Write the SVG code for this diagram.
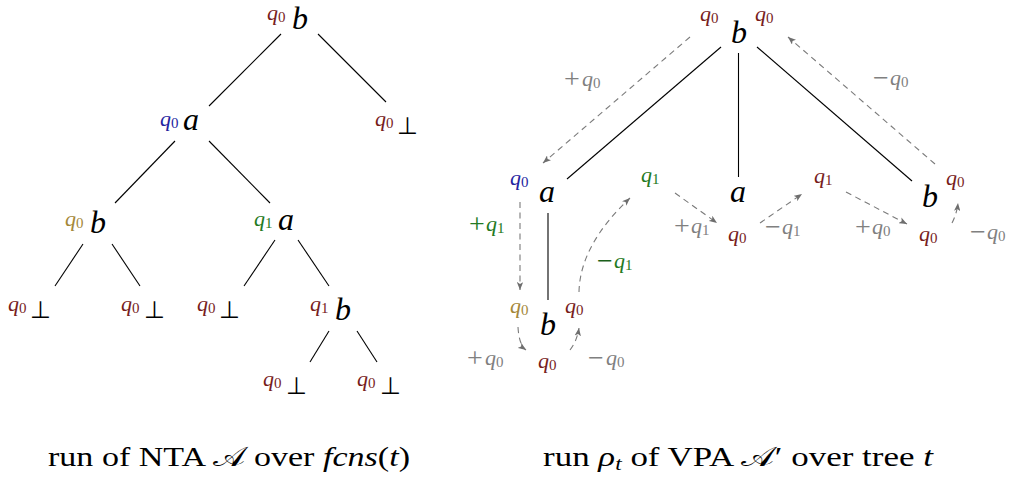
<svg xmlns="http://www.w3.org/2000/svg" width="1011" height="482" viewBox="0 0 1011 482" font-family="'Liberation Serif', 'Times New Roman', 'DejaVu Serif', serif">
<style>
.sym{font-style:italic;font-size:32px;fill:#000}
.q{font-size:22px}
.q .v{font-style:italic}
.q .s{font-size:15px}
.pm{font-size:28px}
.bot{font-family:"DejaVu Sans",sans-serif;font-size:24px;fill:#000}
.mr{fill:#771d1d}
.bl{fill:#2424a0}
.gd{fill:#a4883a}
.gr{fill:#237a23}
.gy{fill:#808080}
.edge{stroke:#000;stroke-width:1.1;fill:none}
.dash{stroke:#7a7a7a;stroke-width:1.1;fill:none;stroke-dasharray:6 4.5;marker-end:url(#ah)}
.cap{font-size:27px;fill:#000}
.it{font-style:italic}
</style>
<defs>
<marker id="ah" viewBox="0 0 10 8" refX="10" refY="4" markerWidth="8" markerHeight="6.4" markerUnits="userSpaceOnUse" orient="auto">
<path d="M0,0 L10,4 L0,8 L2.5,4 z" fill="#6e6e6e"/>
</marker>
</defs>

<!-- Left tree connectors -->
<g id="left-edges">
<line class="edge" x1="281" y1="34" x2="209" y2="106"/>
<line class="edge" x1="318" y1="34" x2="386" y2="102"/>
<line class="edge" x1="175" y1="141" x2="115" y2="203"/>
<line class="edge" x1="209" y1="141" x2="270" y2="203"/>
<line class="edge" x1="83" y1="244" x2="55" y2="286"/>
<line class="edge" x1="112" y1="244" x2="140" y2="286"/>
<line class="edge" x1="275" y1="240" x2="244" y2="286"/>
<line class="edge" x1="298" y1="240" x2="329" y2="286"/>
<line class="edge" x1="329" y1="331" x2="310" y2="362"/>
<line class="edge" x1="357" y1="331" x2="377" y2="362"/>
</g>

<!-- Left tree nodes -->
<g id="L0"><text class="q mr" x="267" y="20"><tspan class="v">q</tspan><tspan class="s" dy="2">0</tspan></text><text class="sym" x="292" y="29">b</text></g>
<g id="L1"><text class="q bl" x="160" y="126"><tspan class="v">q</tspan><tspan class="s" dy="2">0</tspan></text><text class="sym" x="183" y="130">a</text></g>
<g id="L2"><text class="q mr" x="375" y="126"><tspan class="v">q</tspan><tspan class="s" dy="2">0</tspan></text><text class="bot" x="397" y="134">⊥</text></g>
<g id="L3"><text class="q gd" x="65" y="226"><tspan class="v">q</tspan><tspan class="s" dy="2">0</tspan></text><text class="sym" x="90" y="233">b</text></g>
<g id="L4"><text class="q gr" x="254" y="226"><tspan class="v">q</tspan><tspan class="s" dy="2">1</tspan></text><text class="sym" x="278" y="230">a</text></g>
<g id="L5"><text class="q mr" x="8" y="311"><tspan class="v">q</tspan><tspan class="s" dy="2">0</tspan></text><text class="bot" x="30" y="318">⊥</text></g>
<g id="L6"><text class="q mr" x="121" y="311"><tspan class="v">q</tspan><tspan class="s" dy="2">0</tspan></text><text class="bot" x="144" y="318">⊥</text></g>
<g id="L7"><text class="q mr" x="197" y="311"><tspan class="v">q</tspan><tspan class="s" dy="2">0</tspan></text><text class="bot" x="219" y="318">⊥</text></g>
<g id="L8"><text class="q mr" x="310" y="311"><tspan class="v">q</tspan><tspan class="s" dy="2">1</tspan></text><text class="sym" x="335" y="320">b</text></g>
<g id="L9"><text class="q mr" x="263" y="386"><tspan class="v">q</tspan><tspan class="s" dy="2">0</tspan></text><text class="bot" x="286" y="394">⊥</text></g>
<g id="L10"><text class="q mr" x="357" y="386"><tspan class="v">q</tspan><tspan class="s" dy="2">0</tspan></text><text class="bot" x="380" y="394">⊥</text></g>

<!-- Right tree connectors -->
<g id="right-edges">
<line class="edge" x1="721" y1="47" x2="567" y2="179"/>
<line class="edge" x1="738.5" y1="53" x2="738.5" y2="177"/>
<line class="edge" x1="757" y1="47" x2="912" y2="181"/>
<line class="edge" x1="548" y1="213" x2="548" y2="300"/>
<path class="dash" d="M690,37 L543,163"/>
<path class="dash" d="M935,164 L788,37"/>
<path class="dash" d="M520,202 L520,290"/>
<path class="dash" d="M518,327 Q519,345 526,350"/>
<path class="dash" d="M570,350 Q577,341 579,328"/>
<path class="dash" d="M579,292 Q580,245 630,198"/>
<path class="dash" d="M675,193 L717,223"/>
<path class="dash" d="M760,223 L802,194"/>
<path class="dash" d="M846,192 L907,224"/>
<path class="dash" d="M952,223 Q957,213 958,203"/>
<!-- edge labels -->
<text class="q gy"><tspan class="pm" x="564" y="88">+</tspan><tspan class="v" x="582" y="86">q</tspan><tspan class="s" dy="2">0</tspan></text>
<text class="q gy"><tspan class="pm" x="873" y="87">−</tspan><tspan class="v" x="890" y="85">q</tspan><tspan class="s" dy="2">0</tspan></text>
<text class="q gr"><tspan class="pm" x="469" y="233">+</tspan><tspan class="v" x="486" y="231">q</tspan><tspan class="s" dy="2">1</tspan></text>
<text class="q gr"><tspan class="pm" x="597" y="270" fill="#1a601a">−</tspan><tspan class="v" x="614" y="268">q</tspan><tspan class="s" dy="2">1</tspan></text>
<text class="q gy"><tspan class="pm" x="467" y="367">+</tspan><tspan class="v" x="485" y="365">q</tspan><tspan class="s" dy="2">0</tspan></text>
<text class="q gy"><tspan class="pm" x="588" y="367">−</tspan><tspan class="v" x="606" y="365">q</tspan><tspan class="s" dy="2">0</tspan></text>
<text class="q gy"><tspan class="pm" x="674" y="235">+</tspan><tspan class="v" x="691" y="233">q</tspan><tspan class="s" dy="2">1</tspan></text>
<text class="q gy"><tspan class="pm" x="765" y="236">−</tspan><tspan class="v" x="782" y="234">q</tspan><tspan class="s" dy="2">1</tspan></text>
<text class="q gy"><tspan class="pm" x="855" y="236">+</tspan><tspan class="v" x="872" y="234">q</tspan><tspan class="s" dy="2">0</tspan></text>
<text class="q gy"><tspan class="pm" x="970" y="241">−</tspan><tspan class="v" x="987" y="239">q</tspan><tspan class="s" dy="2">0</tspan></text>
</g>

<!-- Right tree nodes -->
<g id="R0"><text class="q mr" x="700" y="21"><tspan class="v">q</tspan><tspan class="s" dy="2">0</tspan></text><text class="sym" x="731" y="43">b</text><text class="q mr" x="755" y="21"><tspan class="v">q</tspan><tspan class="s" dy="2">0</tspan></text></g>
<g id="R1"><text class="q bl" x="510" y="185"><tspan class="v">q</tspan><tspan class="s" dy="2">0</tspan></text><text class="sym" x="539" y="202">a</text></g>
<g id="R2"><text class="sym" x="730" y="202">a</text></g>
<g id="R3"><text class="sym" x="922" y="207">b</text><text class="q mr" x="946" y="185"><tspan class="v">q</tspan><tspan class="s" dy="2">0</tspan></text></g>
<g id="R4"><text class="q gd" x="510" y="313"><tspan class="v">q</tspan><tspan class="s" dy="2">0</tspan></text><text class="sym" x="540" y="335">b</text><text class="q mr" x="565" y="313"><tspan class="v">q</tspan><tspan class="s" dy="2">0</tspan></text></g>
<g id="R5"><text class="q mr" x="538" y="368"><tspan class="v">q</tspan><tspan class="s" dy="2">0</tspan></text></g>
<g id="R6"><text class="q gr" x="641" y="182"><tspan class="v">q</tspan><tspan class="s" dy="2">1</tspan></text></g>
<g id="R7"><text class="q mr" x="728" y="241"><tspan class="v">q</tspan><tspan class="s" dy="2">0</tspan></text></g>
<g id="R8"><text class="q mr" x="814" y="183"><tspan class="v">q</tspan><tspan class="s" dy="2">1</tspan></text></g>
<g id="R9"><text class="q mr" x="919" y="241"><tspan class="v">q</tspan><tspan class="s" dy="2">0</tspan></text></g>

<!-- Captions -->
<g id="captions">
<text class="cap" x="48" y="466" textLength="362" lengthAdjust="spacingAndGlyphs">run of NTA <tspan>𝒜</tspan> over <tspan class="it">fcns</tspan>(<tspan class="it">t</tspan>)</text>
<text class="cap" x="543" y="466" textLength="390" lengthAdjust="spacingAndGlyphs">run <tspan class="it">ρ</tspan><tspan font-size="18" class="it" dy="4">t</tspan><tspan dy="-4"> of VPA 𝒜′ over tree </tspan><tspan class="it">t</tspan></text>
</g>
</svg>
